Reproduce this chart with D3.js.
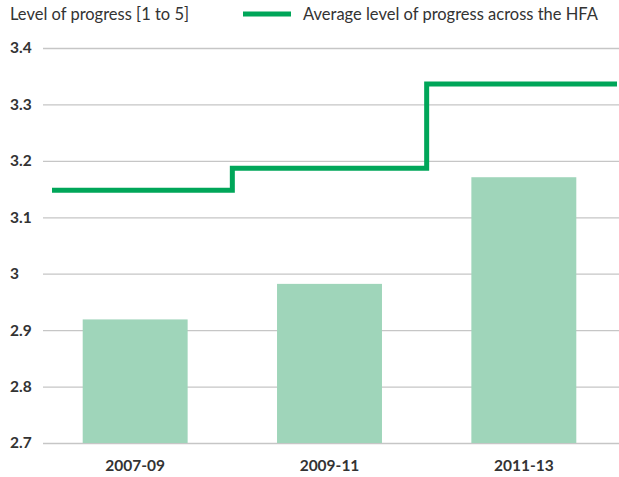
<!DOCTYPE html>
<html>
<head>
<meta charset="utf-8">
<script src="https://cdn.jsdelivr.net/npm/d3@7"></script>
<style>
  body { margin: 0; background: #fff; }
  text { font-family: "Source Sans Pro", Lato, "Open Sans", sans-serif; }
</style>
</head>
<body>
<div id="chart"></div>
<script>
const periods = ["2007-09", "2009-11", "2011-13"];
const levels = [2.919, 2.982, 3.171];
const averages = [3.148, 3.187, 3.336];
const yTicks = [2.7, 2.8, 2.9, 3, 3.1, 3.2, 3.3, 3.4];

const width = 619;
const height = 477;

const svg = d3.select("#chart")
  .append("svg")
  .attr("width", width)
  .attr("height", height);

// scales
const x = d3.scaleBand()
  .domain(periods)
  .range([38, 621])
  .paddingInner(0.46)
  .paddingOuter(0.23);

const y = d3.scaleLinear()
  .domain([2.7, 3.4])
  .range([443, 48]);

// gridlines + y labels
const yAxis = d3.axisLeft(y)
  .tickValues(yTicks)
  .tickFormat(d => d3.format("~g")(d))
  .tickSize(-(619 - 43));

svg.append("g")
  .attr("transform", "translate(43,0)")
  .call(yAxis)
  .call(g => g.select(".domain").remove())
  .call(g => g.selectAll(".tick line").attr("stroke", "#c6c6c6").attr("stroke-width", 1.3))
  .call(g => g.selectAll(".tick text")
    .attr("x", -33)
    .attr("text-anchor", "start")
    .attr("fill", "#333")
    .style("font-size", "15.5px")
    .style("font-weight", "bold"));

// bars
svg.selectAll(".bar")
  .data(periods)
  .enter()
  .append("rect")
  .attr("class", "bar")
  .attr("x", d => x(d))
  .attr("width", x.bandwidth())
  .attr("y", (d, i) => y(levels[i]))
  .attr("height", (d, i) => y(2.7) - y(levels[i]))
  .attr("fill", "#9fd5ba");

// x labels
const xAxis = d3.axisBottom(x).tickSize(0).tickPadding(17);
svg.append("g")
  .attr("transform", "translate(0,443)")
  .call(xAxis)
  .call(g => g.select(".domain").remove())
  .call(g => g.selectAll(".tick text")
    .attr("fill", "#333")
    .style("font-size", "15.5px")
    .style("font-weight", "bold"));

// step line for average
const centers = periods.map(p => x(p) + x.bandwidth() / 2);
const stepPts = [
  [x.range()[0] + 14, averages[0]],
  [(centers[0] + centers[1]) / 2, averages[1]],
  [(centers[1] + centers[2]) / 2, averages[2]],
  [617, averages[2]]
];
const line = d3.line()
  .x(d => d[0])
  .y(d => y(d[1]))
  .curve(d3.curveStepAfter);

svg.append("path")
  .datum(stepPts)
  .attr("d", line)
  .attr("fill", "none")
  .attr("stroke", "#00a659")
  .attr("stroke-width", 5);

// title + legend
svg.append("text")
  .attr("x", 10)
  .attr("y", 20)
  .attr("fill", "#333")
  .style("font-size", "16.5px")
  .text("Level of progress [1 to 5]");

svg.append("line")
  .attr("x1", 243).attr("x2", 291)
  .attr("y1", 14).attr("y2", 14)
  .attr("stroke", "#00a659")
  .attr("stroke-width", 5);

svg.append("text")
  .attr("x", 303)
  .attr("y", 20)
  .attr("fill", "#333")
  .style("font-size", "16.5px")
  .text("Average level of progress across the HFA");
</script>
</body>
</html>
